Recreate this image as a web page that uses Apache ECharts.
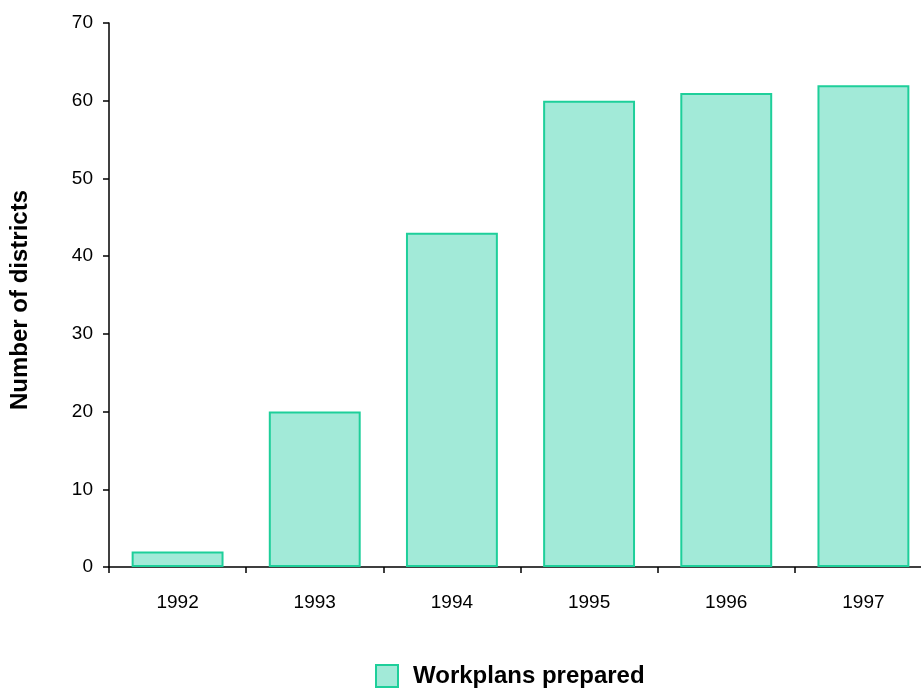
<!DOCTYPE html>
<html>
<head>
<meta charset="utf-8">
<script src="https://cdn.jsdelivr.net/npm/echarts@6/dist/echarts.min.js"></script>
<style>
  html, body { margin: 0; padding: 0; background: #fff; }
  #chart { width: 921px; height: 688px; }
</style>
</head>
<body>
<div id="chart"></div>
<script>
// Districts with workplans prepared, by year
const years = ['1992', '1993', '1994', '1995', '1996', '1997'];
const workplans = [2, 20, 43, 60, 61, 62];
const yTicks = { min: 0, max: 70, interval: 10 };

const font = '"Liberation Sans", Arial, Helvetica, sans-serif';
const chart = echarts.init(document.getElementById('chart'), null, { renderer: 'canvas' });

chart.setOption({
  animation: false,
  backgroundColor: '#ffffff',
  textStyle: { fontFamily: font, color: '#000' },
  grid: {
    left: 109, top: 23, width: 823, height: 544,
    containLabel: false, outerBoundsMode: 'none'
  },
  legend: {
    left: 370,
    top: 659,
    itemWidth: 22,
    itemHeight: 22,
    icon: 'rect',
    data: ['Workplans prepared'],
    textStyle: {
      fontFamily: font, fontSize: 24, fontWeight: 'bold', color: '#000',
      padding: [2, 0, 0, 10]
    }
  },
  xAxis: {
    type: 'category',
    data: years,
    boundaryGap: true,
    axisLine: { lineStyle: { color: '#000', width: 1.5 } },
    axisTick: { show: true, inside: false, length: 6, alignWithLabel: false,
                lineStyle: { color: '#000', width: 1.5 } },
    axisLabel: { fontFamily: font, fontSize: 19, color: '#000', margin: 26 },
    splitLine: { show: false }
  },
  yAxis: {
    type: 'value',
    min: yTicks.min,
    max: yTicks.max,
    interval: yTicks.interval,
    name: 'Number of districts',
    nameLocation: 'middle',
    nameGap: 77,
    nameTextStyle: {
      fontFamily: font, fontSize: 24, fontWeight: 'bold', color: '#000',
      padding: [0, 10, 0, 0]
    },
    axisLine: { show: true, lineStyle: { color: '#000', width: 1.5 } },
    axisTick: { show: true, inside: false, length: 6, lineStyle: { color: '#000', width: 1.5 } },
    axisLabel: { fontFamily: font, fontSize: 19, color: '#000', margin: 16 },
    splitLine: { show: false }
  },
  series: [{
    name: 'Workplans prepared',
    type: 'bar',
    data: workplans,
    barCategoryGap: '33%',
    itemStyle: { color: '#a2ead8', borderColor: '#1ecf9a', borderWidth: 2 }
  }]
});
</script>
</body>
</html>
